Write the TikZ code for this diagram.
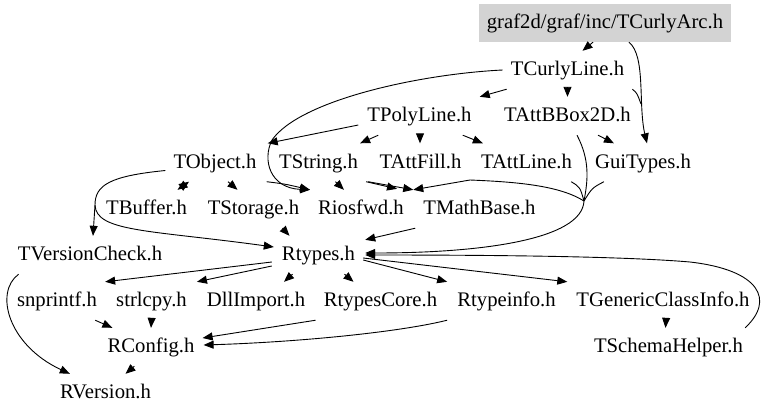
\documentclass[tikz,border=0pt]{standalone}
\usepackage{fontspec}
\setmainfont{Liberation Serif}
\usetikzlibrary{arrows.meta,calc}
\definecolor{rootgray}{RGB}{211,211,211}
\begin{document}
\begin{tikzpicture}[x=1pt,y=-1pt,
  nd/.style={font=\fontsize{20.7}{24}\selectfont, inner xsep=8pt, inner ysep=0pt, minimum height=38pt, text height=14pt, text depth=3pt},
  tip/.tip={Triangle[length=10pt,width=8pt]},
  e/.style={line width=0.9pt, -tip},
  ln/.style={line width=0.9pt}]
\useasboundingbox (0,0) rectangle (768,418);
% nodes
\node[nd, fill=rootgray] (arc) at (605,23) {graf2d/graf/inc/TCurlyArc.h};
\node[nd] (tcl) at (567.5,70) {TCurlyLine.h};
\node[nd] (tpl) at (419.5,116) {TPolyLine.h};
\node[nd] (tbb) at (567.5,116) {TAttBBox2D.h};
\node[nd] (tob) at (215,162.5) {TObject.h};
\node[nd] (tst) at (318.5,162.5) {TString.h};
\node[nd] (taf) at (420.5,162.5) {TAttFill.h};
\node[nd] (tal) at (526.5,162.5) {TAttLine.h};
\node[nd] (gui) at (643,162.5) {GuiTypes.h};
\node[nd] (tbu) at (146.5,209) {TBuffer.h};
\node[nd] (tsto) at (253.5,209) {TStorage.h};
\node[nd] (rio) at (361,209) {Riosfwd.h};
\node[nd] (tmb) at (479.5,209) {TMathBase.h};
\node[nd] (tvc) at (90,255) {TVersionCheck.h};
\node[nd] (rty) at (318.5,255) {Rtypes.h};
\node[nd] (snp) at (57,301) {snprintf.h};
\node[nd] (str) at (151.5,301) {strlcpy.h};
\node[nd] (dll) at (256,301) {DllImport.h};
\node[nd] (rtc) at (380.5,301) {RtypesCore.h};
\node[nd] (rti) at (506.5,301) {Rtypeinfo.h};
\node[nd] (tgc) at (663,301) {TGenericClassInfo.h};
\node[nd] (rco) at (151,347) {RConfig.h};
\node[nd] (tsh) at (668.5,347) {TSchemaHelper.h};
\node[nd] (rve) at (105.5,393) {RVersion.h};
\coordinate (M) at (584,201);
\coordinate (J) at (95,205);
% edges
\draw[e] ($(arc.south)+(-12,0)$) -- ($(tcl.north)+(15,0)$);
\draw[e] ($(arc.south)+(24,0)$) .. controls (646,56) and (638,105) .. ($(gui.north)+(4,0)$);
\draw[ln] (tcl.south east) .. controls (637,93) .. (641,104);
\draw[e] ($(tcl.south west)+(4,0)$) -- (tpl.north east);
\draw[e] (tcl.south) -- (tbb.north);
\draw[e] (tcl.west) .. controls (420,74) and (300,100) .. (272,140) .. controls (262,160) and (270,188) .. (rio.north west);
\draw[e] ($(tpl.west)+(-1,9)$) -- ($(tob.north east)+(3,0)$);
\draw[e] ($(tpl.south west)+(19,0)$) -- ($(tst.north east)+(-6,0)$);
\draw[e] ($(tpl.south)+(0.5,0)$) -- ($(taf.north)+(-0.5,0)$);
\draw[e] ($(tpl.south east)+(-17,0)$) -- ($(tal.north west)+(10,0)$);
\draw[e] ($(tbb.south east)+(-41,0)$) -- ($(gui.north west)+(27,0)$);
\draw[ln] ($(tbb.south east)+(-62,0)$) .. controls (590,160) and (588,180) .. (M);
\draw[ln] ($(tal.south east)+(-9,0)$) .. controls (580,187) .. (M);
\draw[ln] ($(gui.south west)+(17,0)$) .. controls (592,188) .. (M);
\draw[e] (M) .. controls (582,240) and (480,253) .. ($(rty.east)+(2,-2)$);
\draw[e] (M) .. controls (560,186) and (520,182) .. (470,180) -- ($(tmb.north west)+(-2,0)$);
\draw[e] ($(tst.south)+(17,0)$) -- ($(rio.north west)+(34,0)$);
\draw[e] (tst.south east) -- ($(rio.north east)+(-15,-1)$);
\draw[e] ($(tst.south east)+(2,0)$) -- ($(tmb.north west)+(-2,0)$);
\draw[e] ($(tob.south east)+(2,0)$) .. controls (285,184) .. (rio.north west);
\draw[e] ($(tob.south)+(13,0)$) -- ($(tsto.north)+(-16,0)$);
\draw[line width=0.9pt, tip-tip] ($(tob.south)+(-26,0)$) -- ($(tbu.north)+(31,0)$);
\draw[ln] ($(tob.west)+(0,8)$) .. controls (110,176) and (95,185) .. (J);
\draw[e] (J) -- ($(tvc.north)+(3,0)$);
\draw[e] (J) .. controls (96,232) and (150,230) .. ($(rty.west)+(0,-8)$);
\draw[e] ($(tsto.south)+(29,0)$) -- ($(rty.north)+(-29,0)$);
\draw[e] (tmb.south west) -- ($(rty.north east)+(2,4)$);
\draw[e] ($(tsh.north east)+(-6,0)$) .. controls (775,300) and (760,270) .. (690,262) .. controls (620,256) and (480,255) .. ($(rty.east)+(2,0)$);
\draw[e] ($(rty.west)+(-2,7)$) -- (snp.north east);
\draw[e] ($(rty.west)+(-2,11)$) -- ($(str.north east)+(2,0)$);
\draw[e] ($(rty.south)+(-26,0)$) -- ($(dll.north)+(28,0)$);
\draw[e] ($(rty.south)+(26,0)$) -- ($(rtc.north)+(-27,0)$);
\draw[e] ($(rty.east)+(0,5)$) -- ($(rti.north west)+(-2,0)$);
\draw[e] ($(rty.east)+(0,3)$) -- ($(tgc.north west)+(-1,0)$);
\draw[e] ($(tgc.south)+(3,0)$) -- ($(tsh.north)+(-3,0)$);
\draw[e] ($(snp.south east)+(-10,0)$) -- ($(rco.north west)+(13,0)$);
\draw[e] (str.south) -- (rco.north);
\draw[e] (rtc.south west) -- ($(rco.east)+(0,-9)$);
\draw[e] ($(rti.south west)+(-2,0)$) .. controls (400,332) and (300,342) .. ($(rco.east)+(1,-2)$);
\draw[e] ($(rco.south west)+(35,0)$) -- ($(rve.north)+(20,0)$);
\draw[e] ($(tvc.south west)+(9,0)$) .. controls (-6,292) and (8,345) .. ($(rve.north west)+(18,0)$);
\end{tikzpicture}
\end{document}
